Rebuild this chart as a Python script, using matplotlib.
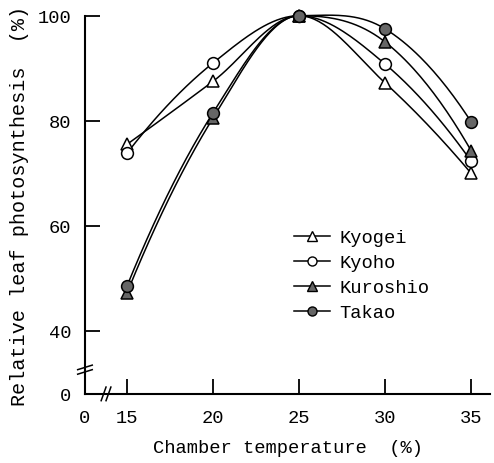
import numpy as np
import matplotlib.pyplot as plt

temps = [15, 20, 25, 30, 35]
kyogei = [75.5, 87.5, 100, 87.2, 70.0]
kyoho = [73.8, 91.0, 100, 90.8, 72.3]
kuroshio = [47.2, 80.5, 100, 95.0, 74.3]
takao = [48.5, 81.5, 100, 97.5, 79.8]

y_zero = 28.0   # where the broken y axis puts "0"
x_zero = 12.56  # where the broken x axis puts "0"


def smooth(xs, ys, n=40):
    # hermite curve through the measured points (flat at the peak), for the line only
    xs = np.asarray(xs, float)
    ys = np.asarray(ys, float)
    h = np.diff(xs)
    d = np.diff(ys) / h
    m = np.gradient(ys, xs)
    m[np.argmax(ys)] = 0.0
    m[0] = 2 * d[0] - m[1]
    m[-1] = 2 * d[-1] - m[-2]
    out_x, out_y = [], []
    for i in range(len(xs) - 1):
        t = np.linspace(0, 1, n)
        h00 = 2 * t**3 - 3 * t**2 + 1
        h10 = t**3 - 2 * t**2 + t
        h01 = -2 * t**3 + 3 * t**2
        h11 = t**3 - t**2
        out_x.append(xs[i] + t * h[i])
        out_y.append(h00 * ys[i] + h10 * h[i] * m[i] + h01 * ys[i + 1] + h11 * h[i] * m[i + 1])
    return np.concatenate(out_x), np.concatenate(out_y)


plt.rcParams['font.family'] = ['Liberation Mono', 'DejaVu Sans']

fig = plt.figure(figsize=(4.94, 4.64), dpi=100)
ax = fig.add_axes([0.172, 0.149, 0.820, 0.815])

series = [
    ('Kyogei', kyogei, '^', 'white'),
    ('Kyoho', kyoho, 'o', 'white'),
    ('Kuroshio', kuroshio, '^', '#666666'),
    ('Takao', takao, 'o', '#666666'),
]
for name, vals, mk, fc in series:
    sx, sy = smooth(temps, vals)
    ax.plot(sx, sy, color='black', lw=1.1, clip_on=False)
    ax.plot(temps, vals, linestyle='none', marker=mk, ms=8.5, mfc=fc,
            mec='black', mew=1.1, clip_on=False, zorder=3)
    ax.plot([], [], color='black', lw=1.1, marker=mk, ms=6.5, mfc=fc,
            mec='black', mew=1.0, label=name)

ax.set_xlim(x_zero, 36.1)
ax.set_ylim(y_zero, 100)
ax.set_xticks([x_zero, 15, 20, 25, 30, 35])
ax.set_xticklabels(['0', '15', '20', '25', '30', '35'])
ax.set_yticks([y_zero, 40, 60, 80, 100])
ax.set_yticklabels(['0', '40', '60', '80', '100'])
ax.xaxis.get_major_ticks()[0].tick1line.set_visible(False)
ax.yaxis.get_major_ticks()[0].tick1line.set_visible(False)
ax.tick_params(direction='in', length=11, width=1.3, labelsize=13.5)
ax.tick_params(axis='x', pad=11)
ax.tick_params(axis='y', pad=10)

for s in ['top', 'right']:
    ax.spines[s].set_visible(False)
for s in ['left', 'bottom']:
    ax.spines[s].set_linewidth(1.5)

# axis break marks
brk = dict(color='black', lw=1.1, clip_on=False, transform=ax.transAxes)
for dx in (0.0, 0.012):
    ax.plot([0.040 + dx, 0.052 + dx], [-0.018, 0.018], **brk)
for dy in (0.0, 0.012):
    ax.plot([-0.018, 0.018], [0.052 + dy, 0.064 + dy], **brk)

ax.set_xlabel('Chamber temperature  (%)', fontsize=13.5, labelpad=9)
ax.set_ylabel('Relative leaf photosynthesis  (%)', fontsize=14.5, labelpad=6)

ax.legend(loc='upper left', bbox_to_anchor=(0.475, 0.48), frameon=False,
          fontsize=13.5, handlelength=1.9, handletextpad=0.5, labelspacing=0.42)

fig.savefig('out.png', dpi=100)
